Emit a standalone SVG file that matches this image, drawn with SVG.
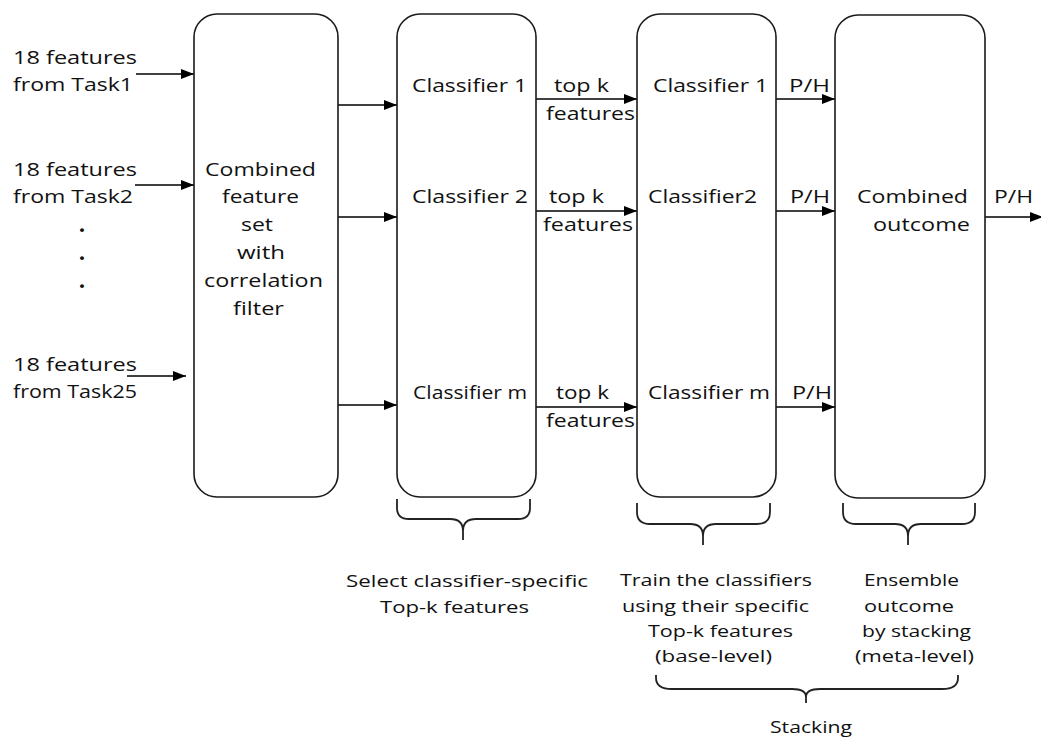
<svg xmlns="http://www.w3.org/2000/svg" width="1041" height="739" viewBox="0 0 1041 739">
<style>
.box{fill:#fff;stroke:#1a1a1a;stroke-width:1.6}
.edge{stroke:#000;stroke-width:1.6;fill:none;marker-end:url(#ah)}
.brace{fill:none;stroke:#222;stroke-width:1.8}
text{font-family:"Open Sans","Noto Sans","DejaVu Sans",sans-serif;fill:#111;font-weight:500}
.t{font-size:19px}
.b{font-size:16px}
.dot{font-size:19px;font-weight:800}
</style>
<defs>
<marker id="ah" markerUnits="userSpaceOnUse" markerWidth="14" markerHeight="12" refX="13" refY="5" orient="auto">
<path d="M0,0 L13,5 L0,10 Z" fill="#000"/>
</marker>
</defs>
<rect width="1041" height="739" fill="#fff"/>

<g id="connectors">
<line class="edge" x1="136" y1="74" x2="194" y2="74"/>
<line class="edge" x1="135" y1="185" x2="194" y2="185"/>
<line class="edge" x1="127" y1="376" x2="186" y2="376"/>
<line class="edge" x1="338" y1="105" x2="397" y2="105"/>
<line class="edge" x1="338" y1="217" x2="397" y2="217"/>
<line class="edge" x1="338" y1="405" x2="397" y2="405"/>
<line class="edge" x1="536" y1="99" x2="637" y2="99"/>
<line class="edge" x1="536" y1="211" x2="637" y2="211"/>
<line class="edge" x1="536" y1="407" x2="637" y2="407"/>
<line class="edge" x1="776" y1="99" x2="835" y2="99"/>
<line class="edge" x1="776" y1="211" x2="835" y2="211"/>
<line class="edge" x1="776" y1="407" x2="835" y2="407"/>
<line class="edge" x1="985" y1="217" x2="1043" y2="217"/>
</g>

<g id="inputs">
<text class="t" x="13" y="64" textLength="124" lengthAdjust="spacingAndGlyphs">18 features</text>
<text class="t" x="13" y="91" textLength="120" lengthAdjust="spacingAndGlyphs">from Task1</text>
<text class="t" x="13" y="176" textLength="124" lengthAdjust="spacingAndGlyphs">18 features</text>
<text class="t" x="13" y="203" textLength="120" lengthAdjust="spacingAndGlyphs">from Task2</text>
<text class="dot" x="82" y="232" text-anchor="middle">.</text>
<text class="dot" x="82" y="260" text-anchor="middle">.</text>
<text class="dot" x="82" y="288" text-anchor="middle">.</text>
<text class="t" x="13" y="371" textLength="124" lengthAdjust="spacingAndGlyphs">18 features</text>
<text class="t" x="13" y="398" textLength="124" lengthAdjust="spacingAndGlyphs">from Task25</text>
</g>

<g id="combined-feature-set">
<rect class="box" x="194" y="14" width="144" height="483" rx="23"/>
<text class="t" x="260.5" y="176" text-anchor="middle" textLength="111" lengthAdjust="spacingAndGlyphs">Combined</text>
<text class="t" x="260.5" y="203" text-anchor="middle" textLength="77" lengthAdjust="spacingAndGlyphs">feature</text>
<text class="t" x="257" y="231" text-anchor="middle" textLength="32" lengthAdjust="spacingAndGlyphs">set</text>
<text class="t" x="261" y="259" text-anchor="middle" textLength="48" lengthAdjust="spacingAndGlyphs">with</text>
<text class="t" x="263.5" y="287" text-anchor="middle" textLength="119" lengthAdjust="spacingAndGlyphs">correlation</text>
<text class="t" x="258.5" y="315" text-anchor="middle" textLength="51" lengthAdjust="spacingAndGlyphs">filter</text>
</g>

<g id="feature-selection">
<rect class="box" x="397" y="14" width="139" height="483" rx="23"/>
<text class="t" x="412" y="92" textLength="115" lengthAdjust="spacingAndGlyphs">Classifier 1</text>
<text class="t" x="412" y="203" textLength="116" lengthAdjust="spacingAndGlyphs">Classifier 2</text>
<text class="t" x="413" y="399" textLength="114" lengthAdjust="spacingAndGlyphs">Classifier m</text>
</g>

<g id="topk-labels">
<text class="t" x="554" y="92" textLength="55" lengthAdjust="spacingAndGlyphs">top k</text>
<text class="t" x="546" y="120" textLength="89" lengthAdjust="spacingAndGlyphs">features</text>
<text class="t" x="549" y="203" textLength="55" lengthAdjust="spacingAndGlyphs">top k</text>
<text class="t" x="543" y="231" textLength="90" lengthAdjust="spacingAndGlyphs">features</text>
<text class="t" x="556" y="399" textLength="53" lengthAdjust="spacingAndGlyphs">top k</text>
<text class="t" x="546" y="427" textLength="89" lengthAdjust="spacingAndGlyphs">features</text>
</g>

<g id="base-classifiers">
<rect class="box" x="637" y="14" width="139" height="483" rx="23"/>
<text class="t" x="653" y="92" textLength="115" lengthAdjust="spacingAndGlyphs">Classifier 1</text>
<text class="t" x="648" y="203" textLength="109" lengthAdjust="spacingAndGlyphs">Classifier2</text>
<text class="t" x="648" y="399" textLength="122" lengthAdjust="spacingAndGlyphs">Classifier m</text>
</g>

<g id="ph-labels">
<text class="t" x="789" y="92" textLength="41" lengthAdjust="spacingAndGlyphs">P/H</text>
<text class="t" x="790" y="203" textLength="40" lengthAdjust="spacingAndGlyphs">P/H</text>
<text class="t" x="792" y="399" textLength="40" lengthAdjust="spacingAndGlyphs">P/H</text>
<text class="t" x="994" y="203" textLength="39" lengthAdjust="spacingAndGlyphs">P/H</text>
</g>

<g id="combined-outcome">
<rect class="box" x="835" y="15" width="150" height="483" rx="23"/>
<text class="t" x="857" y="203" textLength="111" lengthAdjust="spacingAndGlyphs">Combined</text>
<text class="t" x="873" y="231" textLength="97" lengthAdjust="spacingAndGlyphs">outcome</text>
</g>

<g id="braces">
<path class="brace" d="M397,499 V508 Q397,519 409,519 H450 Q463,519 463,531 V540 M530,499 V508 Q530,519 518,519 H476 Q463,519 463,531"/>
<path class="brace" d="M637,503 V512 Q637,524 650,524 H690 Q703,524 703,536 V545 M770,503 V512 Q770,524 757,524 H716 Q703,524 703,536"/>
<path class="brace" d="M843,503 V512 Q843,524 856,524 H895 Q908,524 908,536 V545 M975,503 V512 Q975,524 962,524 H921 Q908,524 908,536"/>
<path class="brace" d="M656,675 V678 Q656,689 672,689 H792 Q806,689 806,697 V703 M958,675 V678 Q958,689 942,689 H820 Q806,689 806,697"/>
</g>

<g id="captions">
<text class="b" x="346" y="587" textLength="242" lengthAdjust="spacingAndGlyphs">Select classifier-specific</text>
<text class="b" x="380" y="613" textLength="149" lengthAdjust="spacingAndGlyphs">Top-k features</text>
<text class="b" x="620" y="586" textLength="192" lengthAdjust="spacingAndGlyphs">Train the classifiers</text>
<text class="b" x="622" y="612" textLength="187" lengthAdjust="spacingAndGlyphs">using their specific</text>
<text class="b" x="648" y="637" textLength="145" lengthAdjust="spacingAndGlyphs">Top-k features</text>
<text class="b" x="655" y="662" textLength="117" lengthAdjust="spacingAndGlyphs">(base-level)</text>
<text class="b" x="864" y="586" textLength="95" lengthAdjust="spacingAndGlyphs">Ensemble</text>
<text class="b" x="864" y="612" textLength="90" lengthAdjust="spacingAndGlyphs">outcome</text>
<text class="b" x="862" y="637" textLength="109" lengthAdjust="spacingAndGlyphs">by stacking</text>
<text class="b" x="855" y="662" textLength="119" lengthAdjust="spacingAndGlyphs">(meta-level)</text>
<text class="b" x="770" y="733" textLength="82" lengthAdjust="spacingAndGlyphs">Stacking</text>
</g>
</svg>
